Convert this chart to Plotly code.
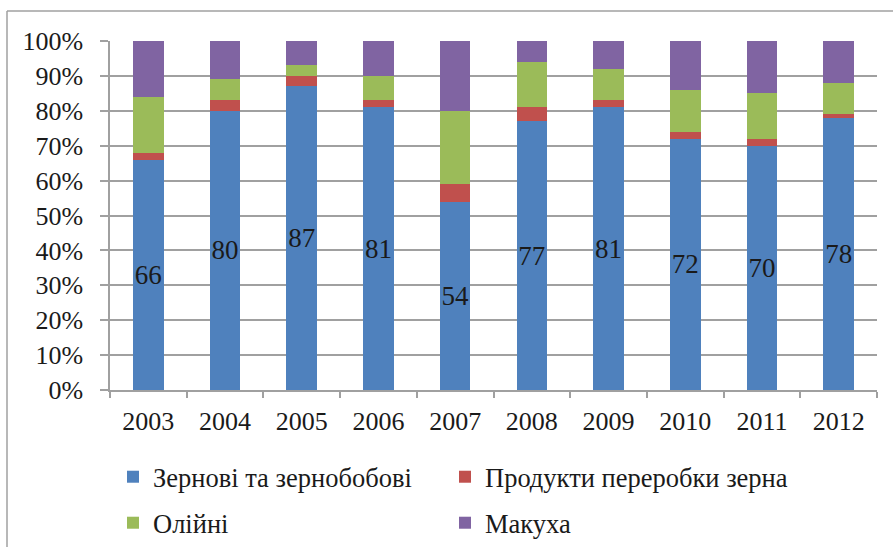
import plotly.graph_objects as go

years = ["2003", "2004", "2005", "2006", "2007", "2008", "2009", "2010", "2011", "2012"]
grain = [66, 80, 87, 81, 54, 77, 81, 72, 70, 78]
grain_products = [2, 3, 3, 2, 5, 4, 2, 2, 2, 1]
oilseeds = [16, 6, 3, 7, 21, 13, 9, 12, 13, 9]
oilcake = [16, 11, 7, 10, 20, 6, 8, 14, 15, 12]

names = ["Зернові та зернобобові", "Продукти переробки зерна", "Олійні", "Макуха"]
colors = ["#4F81BD", "#C0504D", "#9BBB59", "#8064A2"]
series = [grain, grain_products, oilseeds, oilcake]
legend_ids = ["legend", "legend2", "legend3", "legend4"]

FONT = "Liberation Serif, Times New Roman, serif"
TXT = "#1a1a1a"

fig = go.Figure()
for i, (nm, col, vals, lg) in enumerate(zip(names, colors, series, legend_ids)):
    kw = {}
    if i == 0:
        kw = dict(text=[str(v) for v in vals], textposition="inside",
                  insidetextanchor="middle", textangle=0,
                  textfont=dict(family=FONT, size=27, color=TXT),
                  constraintext="none")
    fig.add_trace(go.Bar(x=years, y=vals, name=nm, legend=lg,
                         marker=dict(color=col, line=dict(width=0)),
                         hoverinfo="skip", **kw))

W, H = 893, 547
L, R, T, B = 110, 16, 41, 157
pw, ph = W - L - R, H - T - B

def px2x(px):
    return (px - L) / pw

def py2y(py):
    return (H - B - py) / ph

leg_common = dict(orientation="h", xanchor="left", yanchor="middle",
                  traceorder="normal",
                  font=dict(family=FONT, size=26.5, color=TXT),
                  bgcolor="rgba(0,0,0,0)", itemwidth=30)

fig.update_layout(
    width=W, height=H,
    barmode="stack",
    bargap=0.6,
    margin=dict(l=L, r=R, t=T, b=B, pad=0, autoexpand=False),
    paper_bgcolor="white", plot_bgcolor="white",
    font=dict(family=FONT, size=26, color=TXT),
    showlegend=True,
    legend=dict(x=px2x(113), y=py2y(477), **leg_common),
    legend2=dict(x=px2x(445), y=py2y(477), **leg_common),
    legend3=dict(x=px2x(113), y=py2y(523), **leg_common),
    legend4=dict(x=px2x(445), y=py2y(523), **leg_common),
    xaxis=dict(type="category", tickson="boundaries", ticks="outside", ticklen=6,
               tickcolor="#A0A0A0", tickwidth=1.5, showline=True, linecolor="#A0A0A0",
               linewidth=1.5, showgrid=False, ticklabelstandoff=7,
               tickfont=dict(family=FONT, size=26, color=TXT)),
    yaxis=dict(range=[0, 100], dtick=10, ticksuffix="%", ticks="outside", ticklen=8,
               tickcolor="#A0A0A0", tickwidth=1.5, showline=True, linecolor="#A0A0A0",
               linewidth=1.5, showgrid=True, gridcolor="#A0A0A0", gridwidth=1.5,
               zeroline=False, ticklabelstandoff=12,
               tickfont=dict(family=FONT, size=26, color=TXT)),
    shapes=[
        dict(type="line", xref="paper", yref="paper",
             x0=px2x(7), x1=px2x(893), y0=py2y(11), y1=py2y(11),
             line=dict(color="#A0A0A0", width=1.5), layer="below"),
        dict(type="line", xref="paper", yref="paper",
             x0=px2x(7), x1=px2x(7), y0=py2y(11), y1=py2y(547),
             line=dict(color="#A0A0A0", width=1.5), layer="below"),
    ],
)

fig.write_html("out.html", config={"displayModeBar": False},
               post_script="document.body.style.margin='0';document.body.style.overflow='hidden';")
